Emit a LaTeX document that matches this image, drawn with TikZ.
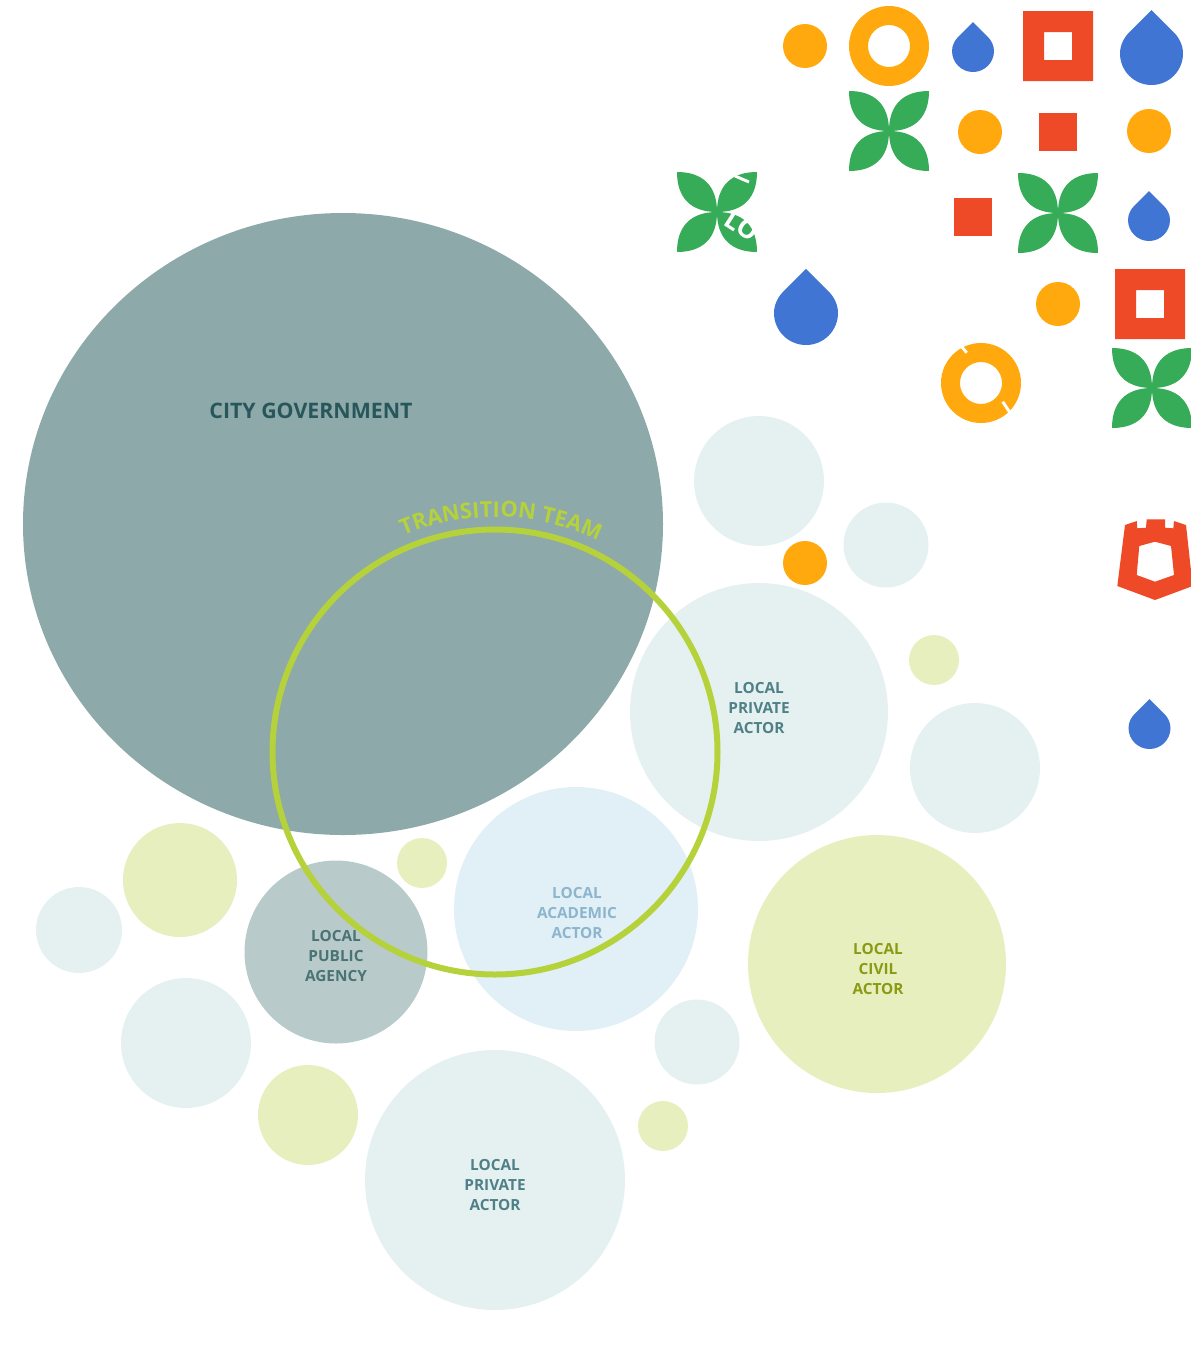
\documentclass[tikz,border=0pt]{standalone}
\usepackage{fontspec}
\setmainfont{Open Sans}
\usetikzlibrary{decorations.text}
\definecolor{cgov}{HTML}{8EA9A9}
\definecolor{cteal}{HTML}{E5F1F1}
\definecolor{colive}{HTML}{E8EFBE}
\definecolor{cblue}{HTML}{E1EFF7}
\definecolor{cpub}{HTML}{B8CACA}
\definecolor{cring}{HTML}{B5D23A}
\definecolor{iorange}{HTML}{FFA90F}
\definecolor{ired}{HTML}{EE4A28}
\definecolor{iblue}{HTML}{4075D3}
\definecolor{igreen}{HTML}{36AB58}
\definecolor{tgov}{HTML}{28575B}
\definecolor{tpriv}{HTML}{4F8087}
\definecolor{tpub}{HTML}{4A7373}
\definecolor{tacad}{HTML}{8DB5CD}
\definecolor{tcivil}{HTML}{8A9A12}
\tikzset{
  lbl/.style={align=center,font=\fontsize{11.5}{15}\selectfont\bfseries,inner sep=0pt},
}
\newcommand{\dropicon}[3]{% cx, cy, r
  \fill[iblue] (#1,#2-1.38*#3)
    -- (#1+.68*#3,#2-.70*#3)
    .. controls (#1+.86*#3,#2-.53*#3) and (#1+#3,#2-.28*#3) .. (#1+#3,#2)
    .. controls (#1+#3,#2+.552*#3) and (#1+.552*#3,#2+#3) .. (#1,#2+#3)
    .. controls (#1-.552*#3,#2+#3) and (#1-#3,#2+.552*#3) .. (#1-#3,#2)
    .. controls (#1-#3,#2-.28*#3) and (#1-.86*#3,#2-.53*#3) .. (#1-.68*#3,#2-.70*#3)
    -- cycle;}
\newcommand{\flowericon}[3]{% cx, cy, half
  \foreach \sx/\sy in {1/1,1/-1,-1/1,-1/-1}{
    \fill[igreen] (#1,#2)
      .. controls (#1,#2+\sy*.68*#3) and (#1+\sx*.38*#3,#2+\sy*#3) .. (#1+\sx*#3,#2+\sy*#3)
      .. controls (#1+\sx*#3,#2+\sy*.38*#3) and (#1+\sx*.68*#3,#2) .. (#1,#2)
      -- cycle;}}
\newcommand{\ringicon}[2]{\fill[iorange,even odd rule] (#1,#2) circle[radius=40] (#1,#2) circle[radius=21];}
\newcommand{\squareicon}[2]{\fill[ired,even odd rule] (#1-35,#2-35) rectangle (#1+35,#2+35) (#1-14,#2-14) rectangle (#1+14,#2+14);}
\newcommand{\blockicon}[2]{\fill[ired] (#1-19,#2-19) rectangle (#1+19,#2+19);}
\newcommand{\doticon}[2]{\fill[iorange] (#1,#2) circle[radius=22];}
\begin{document}
\begin{tikzpicture}[x=0.75pt,y=-0.75pt]
\useasboundingbox (0,0) rectangle (1191,1350);
\clip (0,0) rectangle (1191,1350);
% teal circles
\fill[cteal] (759,481) circle[radius=65];
\fill[cteal] (886,545) circle[radius=42.5];
\fill[cteal] (759,712) circle[radius=129];
\fill[cteal] (975,768) circle[radius=65];
\fill[cteal] (79,930) circle[radius=43];
\fill[cteal] (186,1043) circle[radius=65];
\fill[cteal] (495,1180) circle[radius=130];
\fill[cteal] (697,1042) circle[radius=42.5];
% olive circles
\fill[colive] (934,660) circle[radius=25];
\fill[colive] (877,964) circle[radius=129];
\fill[colive] (422,863) circle[radius=25];
\fill[colive] (180,880) circle[radius=57];
\fill[colive] (308,1115) circle[radius=50];
\fill[colive] (663,1126) circle[radius=25];
% others
\fill[cblue] (576,909) circle[radius=122];
\fill[cpub] (336,952) circle[radius=91.5];
\fill[cgov] (343,524) ellipse[x radius=320,y radius=311];
% icons
\doticon{805}{46}
\ringicon{889}{46}
\dropicon{973}{51}{21}
\squareicon{1058}{46}
\dropicon{1151.5}{53.5}{31.5}
\flowericon{889}{131}{40}
\doticon{980}{132}
\blockicon{1058}{132}
\doticon{1149}{131}
\flowericon{717}{212}{40}
\blockicon{973}{217}
\flowericon{1058}{213}{40}
\dropicon{1149}{220}{21}
\dropicon{806}{313}{32}
\doticon{1058}{304}
\squareicon{1150}{304}
\ringicon{981}{383}
\flowericon{1152}{388}{40}
\doticon{805}{563}
\dropicon{1149.5}{728}{21}
% castle
\fill[ired,even odd rule]
  (1155,600) -- (1117.3,586) -- (1125,525) -- (1136.7,521) -- (1137.3,528.3)
  -- (1146,527.7) -- (1146.7,519.3) -- (1165,519.3) -- (1165,527.7) -- (1173.3,528.3)
  -- (1174,521) -- (1186,525) -- (1192.7,586) -- cycle
  (1155,541.7) -- (1139.3,546) -- (1136.7,575) -- (1155,581.7) -- (1174,575) -- (1171,546) -- cycle;
% white stray marks
\draw[white,line width=2.2] (961.7,346.7) -- (966.7,352.7);
\draw[white,line width=2.2] (1002.7,401.7) -- (1010,412.7);
\draw[white,line width=2.2] (735,176) -- (749,182);
\node[rotate=-33,text=white,font=\fontsize{19}{19}\selectfont\bfseries,inner sep=0pt] (lo) at (742,226) {LO};
% transition ring
\draw[cring,line width=4.5pt] (495,752) circle[radius=222.5];
% labels
\node[font=\fontsize{16}{18}\selectfont\bfseries,text=tgov,inner sep=0pt] (gov) at (311,411) {CITY GOVERNMENT};
\node[lbl,text=tpriv] (priv1) at (759,708) {LOCAL\\PRIVATE\\ACTOR};
\node[lbl,text=tacad] (acad) at (577,913) {LOCAL\\ACADEMIC\\ACTOR};
\node[lbl,text=tcivil] (civil) at (878,969) {LOCAL\\CIVIL\\ACTOR};
\node[lbl,text=tpub] (pub) at (336,956) {LOCAL\\PUBLIC\\AGENCY};
\node[lbl,text=tpriv] (priv2) at (495,1185) {LOCAL\\PRIVATE\\ACTOR};
% curved title
\path[postaction={decorate,decoration={text along path,text align=center,
   text={|\fontsize{16.4}{18}\selectfont\bfseries\color{cring}|TRANSITION TEAM}}}]
  (390.1,541.7) .. controls (460,506.9) and (542.7,509) .. (610.7,547.5);
\end{tikzpicture}
\end{document}
